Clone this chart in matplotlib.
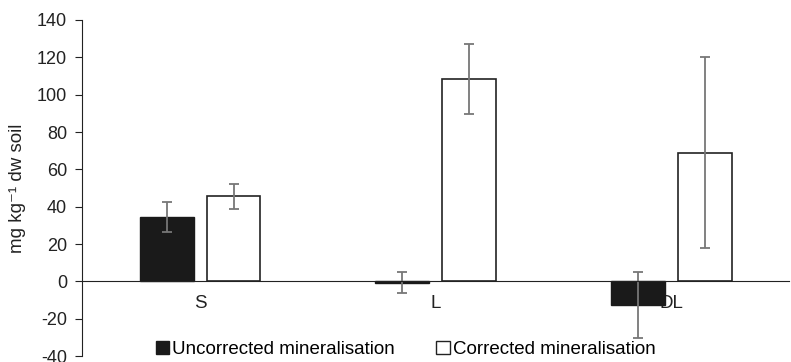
import numpy as np
import matplotlib.pyplot as plt
from matplotlib.patches import Patch

plt.rcParams['font.family'] = ['Liberation Sans', 'DejaVu Sans']
plt.rcParams['axes.unicode_minus'] = False

categories = ['S', 'L', 'DL']
uncorrected = [34.5, -0.6, -12.5]
uncorrected_err = [8.0, 5.8, 17.5]
corrected = [45.5, 108.5, 69.0]
corrected_err = [6.5, 18.7, 51.0]

fig = plt.figure(figsize=(7.91, 3.62), dpi=100)
ax = fig.add_axes([0.104, 0.016, 0.894, 0.929])

x = np.arange(len(categories))
w = 0.228
off = 0.142
err_kw = dict(ecolor='#777777', elinewidth=1.3, capsize=3.5, capthick=1.3)

ax.bar(x - off, uncorrected, w, color='#1a1a1a', edgecolor='#1a1a1a',
       yerr=uncorrected_err, error_kw=err_kw, zorder=2)
ax.bar(x + off, corrected, w, color='white', edgecolor='#222222', linewidth=1.2,
       yerr=corrected_err, error_kw=err_kw, zorder=2)

ax.set_xlim(-0.5, 2.5)
ax.set_ylim(-40, 140)
ax.set_yticks(np.arange(-40, 141, 20))
ax.set_xticks(x)
ax.set_xticklabels(categories)

for s in ['top', 'right']:
    ax.spines[s].set_visible(False)
ax.spines['bottom'].set_position(('data', 0))
ax.spines['bottom'].set_zorder(3)
ax.spines['left'].set_color('#222222')
ax.spines['bottom'].set_color('#222222')
ax.tick_params(axis='x', length=0, pad=10, labelsize=13.5, colors='#222222')
ax.tick_params(axis='y', length=5, pad=6, labelsize=13, colors='#222222', direction='out')

ax.set_ylabel('mg kg\u207b\u00b9 dw soil', fontsize=13.5, color='#222222', labelpad=8)

handles = [Patch(facecolor='#1a1a1a', edgecolor='#1a1a1a'),
           Patch(facecolor='white', edgecolor='#222222')]
fig.legend(handles, ['Uncorrected mineralisation', 'Corrected mineralisation'],
           loc='center', bbox_to_anchor=(0.513, 0.035), ncol=2, frameon=False,
           fontsize=13.5, handlelength=0.7, handleheight=0.7, handletextpad=0.2,
           columnspacing=2.2)

fig.savefig('out.png', dpi=100)
